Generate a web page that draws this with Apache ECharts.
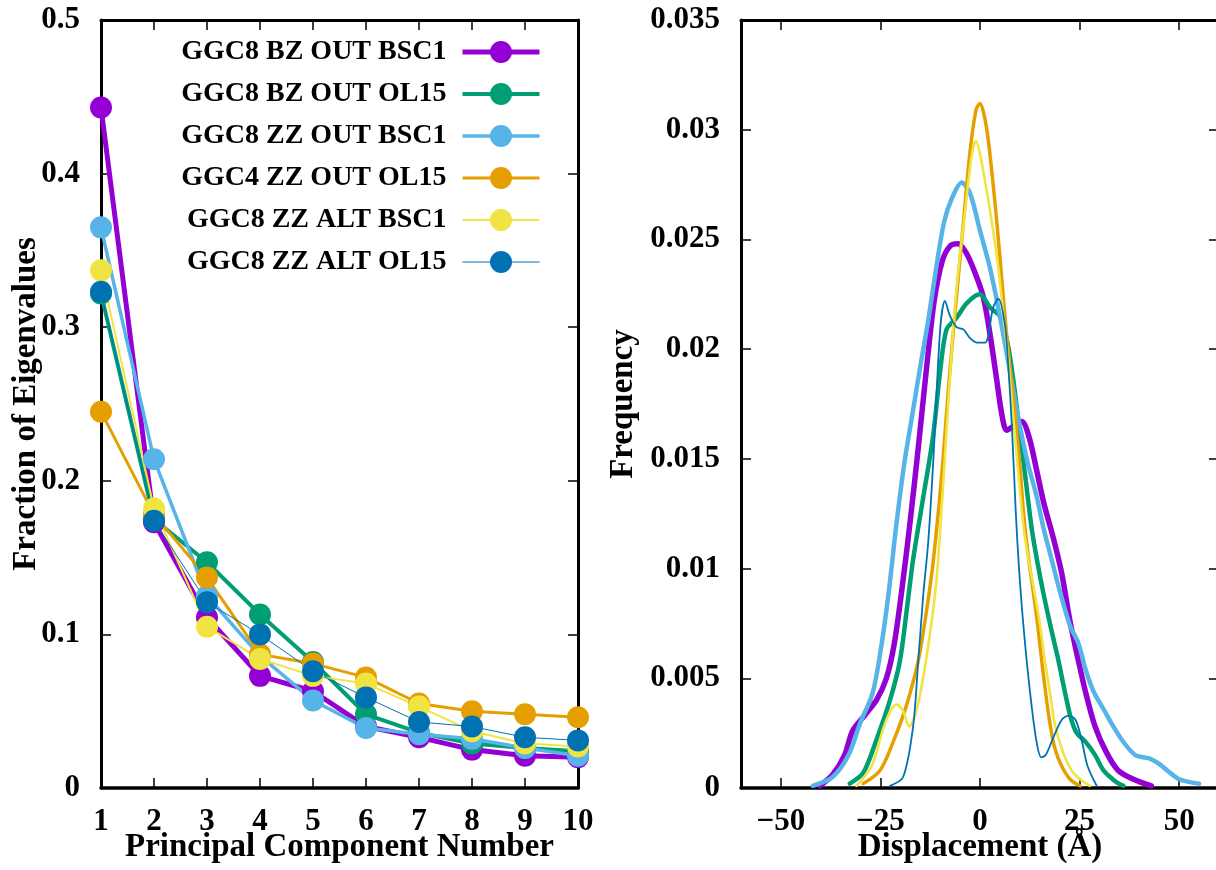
<!DOCTYPE html>
<html>
<head>
<meta charset="utf-8">
<script src="https://cdn.jsdelivr.net/npm/echarts@6/dist/echarts.min.js"></script>
<style>
html,body{margin:0;padding:0;background:#fff;}
#chart{width:1216px;height:870px;}
</style>
</head>
<body>
<div id="chart"></div>
<script>
// ---------- Left panel: fraction of eigenvalues ----------
const pcNumbers = [1, 2, 3, 4, 5, 6, 7, 8, 9, 10];
const seriesNames = [
  'GGC8 BZ OUT BSC1',
  'GGC8 BZ OUT OL15',
  'GGC8 ZZ OUT BSC1',
  'GGC4 ZZ OUT OL15',
  'GGC8 ZZ ALT BSC1',
  'GGC8 ZZ ALT OL15'
];
const eigBzOutBsc1 = [0.443, 0.173, 0.111, 0.073, 0.063, 0.040, 0.033, 0.025, 0.021, 0.020];
const eigBzOutOl15 = [0.322, 0.175, 0.147, 0.113, 0.082, 0.048, 0.036, 0.029, 0.026, 0.024];
const eigZzOutBsc1 = [0.365, 0.214, 0.125, 0.086, 0.057, 0.039, 0.035, 0.032, 0.026, 0.021];
const eigGgc4ZzOutOl15 = [0.245, 0.178, 0.137, 0.087, 0.081, 0.072, 0.055, 0.050, 0.048, 0.046];
const eigZzAltBsc1 = [0.337, 0.182, 0.105, 0.084, 0.073, 0.068, 0.053, 0.037, 0.029, 0.027];
const eigZzAltOl15 = [0.323, 0.174, 0.121, 0.100, 0.076, 0.059, 0.043, 0.040, 0.033, 0.031];

// ---------- Right panel: displacement distributions [x, frequency] ----------
const dispBzOutBsc1 = [[-40.2,0.0001],[-37,0.0006],[-34,0.0015],[-32,0.0026],[-29,0.0033],[-26,0.0040],[-23.5,0.0050],[-21.5,0.0066],[-19.5,0.0092],[-17.5,0.0122],[-15.5,0.0155],[-13.5,0.0190],[-11.5,0.0222],[-9.5,0.0240],[-7.5,0.0247],[-5.5,0.0248],[-3.5,0.0244],[-1.5,0.0236],[0.8,0.0224],[2.5,0.0207],[4.2,0.0186],[5.5,0.0170],[6.7,0.0163],[8.5,0.0165],[10.5,0.0167],[12.3,0.0160],[14.2,0.0145],[16,0.0130],[18.4,0.0114],[20.5,0.0098],[22.6,0.0076],[24.7,0.0058],[26.6,0.0043],[28.9,0.0028],[31.8,0.0016],[34.7,0.0008],[38.5,0.0004],[43,0.0001]];
const dispBzOutOl15 = [[-32.7,0.0002],[-29.3,0.0007],[-26,0.0022],[-22.6,0.004],[-20.1,0.0058],[-18.4,0.0081],[-16.8,0.0104],[-14.2,0.0133],[-11.8,0.0160],[-10,0.0190],[-8.4,0.0209],[-6,0.0214],[-3.3,0.0221],[0,0.0225],[2.5,0.0219],[5,0.0215],[7,0.0202],[8.5,0.0184],[10,0.0162],[11.5,0.0140],[13,0.0118],[14.5,0.0102],[16,0.0088],[17.8,0.0073],[19.7,0.0058],[21.4,0.0043],[22.8,0.0032],[24.3,0.0025],[26.5,0.0021],[28.9,0.0015],[31,0.0008],[34,0.0003],[36,0.0001]];
const dispZzOutBsc1 = [[-42,0.0001],[-37,0.0005],[-33,0.0015],[-30,0.003],[-27,0.0043],[-25,0.0062],[-23,0.0088],[-21,0.0120],[-19,0.0148],[-17,0.0170],[-15,0.0192],[-13,0.0213],[-11,0.0237],[-9,0.0258],[-7,0.0269],[-4.6,0.0276],[-2.5,0.0271],[0,0.0254],[2.5,0.0237],[5,0.0215],[7.5,0.0190],[10,0.0165],[12,0.0148],[14.2,0.0133],[16,0.0118],[18,0.0104],[20,0.0090],[22.6,0.0074],[24.7,0.0066],[26.5,0.0054],[28.5,0.0044],[31,0.0036],[33.5,0.0028],[36,0.0021],[39,0.0015],[42.5,0.00135],[45,0.0011],[47,0.0008],[50,0.0004],[55,0.0002]];
const dispGgc4ZzOutOl15 = [[-29.3,0.0002],[-25.1,0.0008],[-21.8,0.0021],[-18.4,0.0038],[-15.5,0.0058],[-13.4,0.0081],[-11.7,0.0104],[-9.5,0.0145],[-7.8,0.0185],[-6,0.0222],[-4.2,0.0257],[-2.5,0.0290],[-1,0.0309],[0,0.0312],[1,0.0307],[2.1,0.0295],[3.8,0.0266],[5,0.0242],[6.7,0.0206],[8.4,0.0177],[10,0.0147],[11,0.0124],[12.1,0.0106],[13.4,0.0089],[14.5,0.0074],[15.5,0.0058],[16.5,0.0043],[17.6,0.0029],[18.8,0.0018],[20.5,0.001],[22.6,0.0004],[25.1,0.0001]];
const dispZzAltBsc1 = [[-31,0.0001],[-27.2,0.001],[-24.3,0.0027],[-22.5,0.0035],[-20.9,0.0038],[-19.3,0.0035],[-17.8,0.0028],[-16.3,0.0033],[-14.8,0.0045],[-13.4,0.0060],[-11.7,0.0082],[-10.5,0.0104],[-8.4,0.0163],[-6.7,0.0210],[-5.2,0.0240],[-3.8,0.0262],[-2.1,0.0288],[-1,0.0295],[0,0.0289],[1.7,0.0272],[3.3,0.0254],[4.6,0.0237],[5.9,0.0215],[7.1,0.0195],[9.2,0.0152],[11,0.0118],[12.6,0.0100],[13.8,0.0088],[15.1,0.0074],[16.3,0.0058],[17.6,0.0043],[18.8,0.0029],[20.9,0.0016],[23,0.0008],[25.1,0.0004],[27.6,0.0001]];
const dispZzAltOl15 = [[-22.6,0.0001],[-19.3,0.0005],[-16.8,0.0028],[-15.5,0.0058],[-14.2,0.0089],[-13,0.0112],[-11.7,0.0150],[-10,0.0209],[-8.8,0.0222],[-7.5,0.0215],[-5.9,0.021],[-4.2,0.0209],[-2.5,0.0205],[-0.8,0.0203],[1.3,0.0203],[3.3,0.0219],[4.6,0.0223],[6.2,0.0212],[7,0.0195],[8,0.0165],[9,0.0125],[9.8,0.0100],[10.9,0.0074],[12.6,0.0043],[14.2,0.0021],[15.4,0.0014],[16.5,0.0015],[18.4,0.0023],[20.5,0.0031],[22.2,0.0033],[24,0.0031],[25.5,0.0022],[27,0.0010],[29.3,0.0001]];

const dispTicks = [-50, -25, 0, 25, 50];

const colors = ['#9400d3', '#009e73', '#56b4e9', '#e69f00', '#f0e442', '#0072b2'];
const leftWidths = [5, 4, 3.5, 3, 2, 1];
const rightWidths = [5.5, 4.5, 4.5, 3.5, 2.6, 1.8];

const eigData = [eigBzOutBsc1, eigBzOutOl15, eigZzOutBsc1, eigGgc4ZzOutOl15, eigZzAltBsc1, eigZzAltOl15];
const dispData = [dispBzOutBsc1, dispBzOutOl15, dispZzOutBsc1, dispGgc4ZzOutOl15, dispZzAltBsc1, dispZzAltOl15];

const FONT = "'Liberation Serif', 'Times New Roman', serif";
const labelStyle = { fontFamily: FONT, fontWeight: 'bold', fontSize: 31, color: '#000' };
const nameStyle = { fontFamily: FONT, fontWeight: 'bold', fontSize: 33, color: '#000' };
const lineBlack = { color: '#000', width: 3 };
const tickStyle = { show: true, inside: true, length: 10, lineStyle: { color: '#000', width: 1.5 } };

function fmtY(v) { return v === 0 ? '0' : String(Math.round(v * 10000) / 10000); }
function fmtX(v) { return v < 0 ? '\u2212' + Math.abs(v) : String(v); }

const chart = echarts.init(document.getElementById('chart'), null, { renderer: 'canvas' });

const series = [];
eigData.forEach((arr, i) => {
  series.push({
    name: seriesNames[i],
    type: 'line',
    xAxisIndex: 0, yAxisIndex: 0,
    data: arr.map((v, k) => [pcNumbers[k], v]),
    symbol: 'circle', symbolSize: 22,
    itemStyle: { color: colors[i] },
    lineStyle: { color: colors[i], width: leftWidths[i] },
    animation: false
  });
});
dispData.forEach((arr, i) => {
  series.push({
    name: seriesNames[i] + ' ',
    type: 'line',
    xAxisIndex: 2, yAxisIndex: 2,
    data: arr,
    showSymbol: false, symbol: 'none',
    smooth: 0.3,
    itemStyle: { color: colors[i] },
    lineStyle: { color: colors[i], width: rightWidths[i], join: 'round', cap: 'round' },
    animation: false
  });
});

chart.setOption({
  backgroundColor: '#fff',
  animation: false,
  grid: [
    { left: 101, top: 20, width: 477, height: 768, show: false, outerBoundsMode: 'none', containLabel: false },
    { left: 741, top: 20, width: 478, height: 768, show: false, outerBoundsMode: 'none', containLabel: false }
  ],
  legend: {
    data: seriesNames.map((n, i) => ({ name: n, lineStyle: { width: leftWidths[i], color: colors[i] } })),
    orient: 'vertical',
    align: 'right',
    right: 674,
    top: 38,
    padding: 0,
    itemWidth: 77,
    itemHeight: 27.5,
    itemGap: 14,
    textStyle: { fontFamily: FONT, fontWeight: 'bold', fontSize: 28, color: '#000', padding: [0, 11, 0, 0] }
  },
  xAxis: [
    { type: 'value', gridIndex: 0, position: 'bottom', min: 1, max: 10, interval: 1,
      name: 'Principal Component Number', nameLocation: 'middle', nameGap: 43, nameMoveOverlap: false, nameTextStyle: nameStyle,
      axisLine: { show: true, onZero: false, lineStyle: { color: '#000', width: 3.5 } },
      axisTick: tickStyle, splitLine: { show: false },
      axisLabel: Object.assign({ margin: 18, formatter: v => String(v) }, labelStyle) },
    { type: 'value', gridIndex: 0, position: 'top', min: 1, max: 10, interval: 1,
      axisLine: { show: true, onZero: false, lineStyle: lineBlack },
      axisTick: tickStyle, splitLine: { show: false }, axisLabel: { show: false } },
    { type: 'value', gridIndex: 1, position: 'bottom', min: -60, max: 60,
      name: 'Displacement (\u00C5)', nameLocation: 'middle', nameGap: 43, nameMoveOverlap: false, nameTextStyle: nameStyle,
      axisLine: { show: true, onZero: false, lineStyle: { color: '#000', width: 3.5 } },
      axisTick: Object.assign({ customValues: dispTicks }, tickStyle), splitLine: { show: false },
      axisLabel: Object.assign({ margin: 18, customValues: dispTicks, formatter: fmtX }, labelStyle) },
    { type: 'value', gridIndex: 1, position: 'top', min: -60, max: 60,
      axisLine: { show: true, onZero: false, lineStyle: lineBlack },
      axisTick: Object.assign({ customValues: dispTicks }, tickStyle), splitLine: { show: false },
      axisLabel: { show: false, customValues: dispTicks } }
  ],
  yAxis: [
    { type: 'value', gridIndex: 0, position: 'left', min: 0, max: 0.5, interval: 0.1,
      name: 'Fraction of Eigenvalues', nameLocation: 'middle', nameGap: 58, nameMoveOverlap: false, nameTextStyle: nameStyle,
      axisLine: { show: true, onZero: false, lineStyle: lineBlack },
      axisTick: tickStyle, splitLine: { show: false },
      axisLabel: Object.assign({ margin: 21, formatter: fmtY }, labelStyle) },
    { type: 'value', gridIndex: 0, position: 'right', min: 0, max: 0.5, interval: 0.1,
      axisLine: { show: true, onZero: false, lineStyle: lineBlack },
      axisTick: tickStyle, splitLine: { show: false }, axisLabel: { show: false } },
    { type: 'value', gridIndex: 1, position: 'left', min: 0, max: 0.035, interval: 0.005,
      name: 'Frequency', nameLocation: 'middle', nameGap: 101, nameMoveOverlap: false, nameTextStyle: nameStyle,
      axisLine: { show: true, onZero: false, lineStyle: lineBlack },
      axisTick: tickStyle, splitLine: { show: false },
      axisLabel: Object.assign({ margin: 21, formatter: fmtY }, labelStyle) },
    { type: 'value', gridIndex: 1, position: 'right', min: 0, max: 0.035, interval: 0.005,
      axisLine: { show: true, onZero: false, lineStyle: lineBlack },
      axisTick: tickStyle, splitLine: { show: false }, axisLabel: { show: false } }
  ],
  series: series
});
</script>
</body>
</html>
